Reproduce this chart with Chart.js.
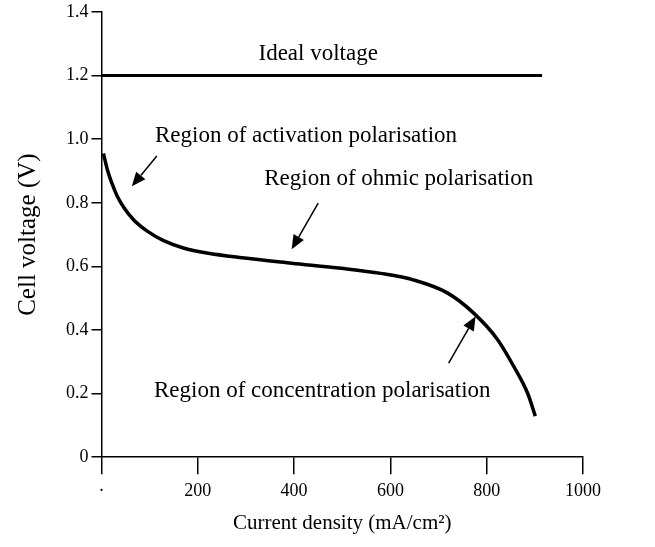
<!DOCTYPE html>
<html>
<head>
<meta charset="utf-8">
<script src="https://cdn.jsdelivr.net/npm/chart.js@4"></script>
<style>
  html, body { margin: 0; padding: 0; background: #fff; }
  #wrap { width: 655px; height: 547px; }
</style>
</head>
<body>
<div id="wrap"><canvas id="polCurve" width="655" height="547"></canvas></div>
<script>
// polarisation curve
const currentDensity = [4, 12, 22, 32, 46, 67, 95, 129, 170, 219, 292, 395, 498, 580, 649, 719, 773, 822, 856, 885, 901];
const cellVoltage = [0.955, 0.905, 0.860, 0.823, 0.786, 0.746, 0.711, 0.681, 0.658, 0.642, 0.627, 0.610, 0.594, 0.578, 0.557, 0.516, 0.453, 0.371, 0.286, 0.201, 0.129];

// ideal voltage line
const idealX = [0, 915];
const idealV = [1.2, 1.2];

const xTicks = [0, 200, 400, 600, 800, 1000];
const yTicks = [0, 0.2, 0.4, 0.6, 0.8, 1.0, 1.2, 1.4];

// annotation texts (data coords)
const noteText = ['Ideal voltage', 'Region of activation polarisation', 'Region of ohmic polarisation', 'Region of concentration polarisation'];
const noteX = [450, 111, 338, 109];
const noteY = [1.267, 1.009, 0.874, 0.208];
const noteAlign = ['center', 'left', 'left', 'left'];

// arrows: tail -> head (data coords)
const arrowFromX = [115, 450, 721];
const arrowFromY = [0.947, 0.799, 0.296];
const arrowToX = [63, 395, 777];
const arrowToY = [0.852, 0.654, 0.443];

const serif = '"Liberation Serif", "Times New Roman", serif';

const notesPlugin = {
  id: 'notes',
  afterDatasetsDraw(chart) {
    const ctx = chart.ctx;
    const xs = chart.scales.x, ys = chart.scales.y;
    ctx.save();
    ctx.fillStyle = '#000';
    ctx.textBaseline = 'middle';
    ctx.font = '23px ' + serif;
    noteText.forEach((t, i) => {
      ctx.textAlign = noteAlign[i];
      ctx.fillText(t, xs.getPixelForValue(noteX[i]), ys.getPixelForValue(noteY[i]));
    });
    ctx.strokeStyle = '#000';
    ctx.lineWidth = 1.5;
    arrowFromX.forEach((fx, i) => {
      const x1 = xs.getPixelForValue(fx), y1 = ys.getPixelForValue(arrowFromY[i]);
      const x2 = xs.getPixelForValue(arrowToX[i]), y2 = ys.getPixelForValue(arrowToY[i]);
      const a = Math.atan2(y2 - y1, x2 - x1);
      const len = 14, w = 6;
      const bx = x2 - len * Math.cos(a), by = y2 - len * Math.sin(a);
      ctx.beginPath();
      ctx.moveTo(x1, y1);
      ctx.lineTo(bx, by);
      ctx.stroke();
      ctx.beginPath();
      ctx.moveTo(x2, y2);
      ctx.lineTo(bx + w * Math.sin(a), by - w * Math.cos(a));
      ctx.lineTo(bx - w * Math.sin(a), by + w * Math.cos(a));
      ctx.closePath();
      ctx.fill();
    });
    ctx.restore();
  }
};

const ctx = document.getElementById('polCurve').getContext('2d');
new Chart(ctx, {
  type: 'scatter',
  data: {
    datasets: [
      {
        label: 'Ideal voltage',
        data: idealX.map((x, i) => ({ x: x, y: idealV[i] })),
        showLine: true,
        borderColor: '#000',
        borderWidth: 3,
        pointRadius: 0
      },
      {
        label: 'Cell voltage',
        data: currentDensity.map((x, i) => ({ x: x, y: cellVoltage[i] })),
        showLine: true,
        borderColor: '#000',
        borderWidth: 3.5,
        pointRadius: 0,
        cubicInterpolationMode: 'monotone'
      }
    ]
  },
  options: {
    responsive: false,
    animation: false,
    layout: { padding: { left: 13, right: 72, top: 0, bottom: 11 } },
    plugins: {
      legend: { display: false },
      tooltip: { enabled: false }
    },
    scales: {
      x: {
        type: 'linear',
        min: 0,
        max: 1000,
        afterBuildTicks: axis => { axis.ticks = xTicks.map(v => ({ value: v })); },
        border: { color: '#000', width: 1.5 },
        grid: { drawOnChartArea: false, color: '#000', lineWidth: 1.5, tickLength: 17 },
        ticks: {
          color: '#000',
          font: { family: serif, size: 18 },
          padding: 6,
          maxRotation: 0,
          callback: v => v === 0 ? '·' : String(v)
        },
        title: {
          display: true,
          text: 'Current density (mA/cm²)',
          color: '#000',
          font: { family: serif, size: 21 },
          padding: { top: 3, bottom: 0 }
        }
      },
      y: {
        min: 0,
        max: 1.4,
        afterBuildTicks: axis => { axis.ticks = yTicks.map(v => ({ value: v })); },
        border: { color: '#000', width: 1.5 },
        grid: { drawOnChartArea: false, color: '#000', lineWidth: 1.5, tickLength: 10 },
        ticks: {
          color: '#000',
          font: { family: serif, size: 18, lineHeight: 1 },
          padding: 3,
          callback: v => v === 0 ? '0' : v.toFixed(1)
        },
        title: {
          display: true,
          text: 'Cell voltage (V)',
          color: '#000',
          font: { family: serif, size: 25 },
          padding: { top: 0, bottom: 20 }
        }
      }
    }
  },
  plugins: [notesPlugin]
});
</script>
</body>
</html>
